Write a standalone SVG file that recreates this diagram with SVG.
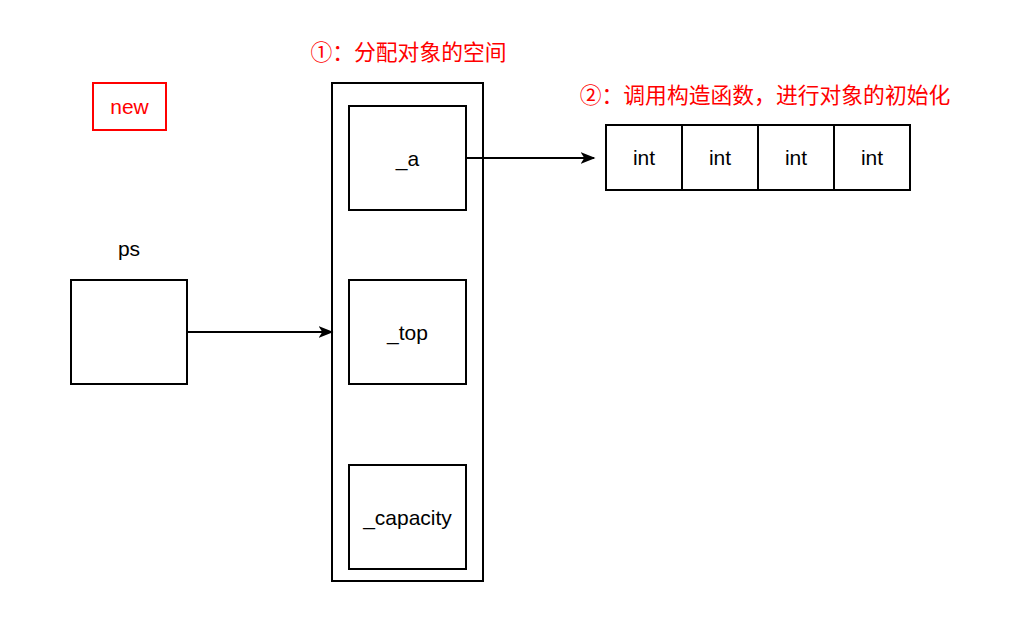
<svg xmlns="http://www.w3.org/2000/svg" width="1015" height="640" viewBox="0 0 1015 640">
<defs>
<style>
.box{fill:#fff;stroke:#000;stroke-width:2}
.t{font-family:"Liberation Sans",Arial,"Noto Sans CJK SC",sans-serif;font-size:21px;fill:#000;text-anchor:middle;dominant-baseline:central}
.cn{font-size:21.8px}
.r{fill:#ff0000}
.line{stroke:#000;stroke-width:2;fill:none}
</style>
<marker id="arr" viewBox="0 0 10 10" refX="9" refY="5" markerWidth="15" markerHeight="15" markerUnits="userSpaceOnUse" orient="auto">
<path d="M0,1 L10,5 L0,9 L2.5,5 Z" fill="#000"/>
</marker>
</defs>
<rect width="1015" height="640" fill="#fff"/>
<g id="label1"><text class="t r cn" x="408.5" y="52">①：分配对象的空间</text></g>
<g id="label2"><text class="t r cn" x="765" y="95">②：调用构造函数，进行对象的初始化</text></g>
<g id="new"><rect x="93" y="83" width="73" height="47" fill="#fff" stroke="#ff0000" stroke-width="2"/><text class="t r" x="129.5" y="106.5">new</text></g>
<g id="pslabel"><text class="t" x="129" y="248">ps</text></g>
<g id="ps"><rect class="box" x="71" y="280" width="116" height="104"/></g>
<g id="container"><rect class="box" x="332" y="83" width="151" height="498"/></g>
<g id="a"><rect class="box" x="349" y="106" width="117" height="104"/><text class="t" x="407.5" y="158">_a</text></g>
<g id="top"><rect class="box" x="349" y="280" width="117" height="104"/><text class="t" x="407.5" y="332">_top</text></g>
<g id="capacity"><rect class="box" x="349" y="465" width="117" height="104"/><text class="t" x="407.5" y="517">_capacity</text></g>
<g id="int1"><rect class="box" x="606" y="125" width="76" height="65"/><text class="t" x="644" y="157.5">int</text></g>
<g id="int2"><rect class="box" x="682" y="125" width="76" height="65"/><text class="t" x="720" y="157.5">int</text></g>
<g id="int3"><rect class="box" x="758" y="125" width="76" height="65"/><text class="t" x="796" y="157.5">int</text></g>
<g id="int4"><rect class="box" x="834" y="125" width="76" height="65"/><text class="t" x="872" y="157.5">int</text></g>
<g id="connectors">
<line class="line" x1="187" y1="332" x2="332" y2="332" marker-end="url(#arr)"/>
<line class="line" x1="466" y1="158" x2="594" y2="158" marker-end="url(#arr)"/>
</g>
</svg>
